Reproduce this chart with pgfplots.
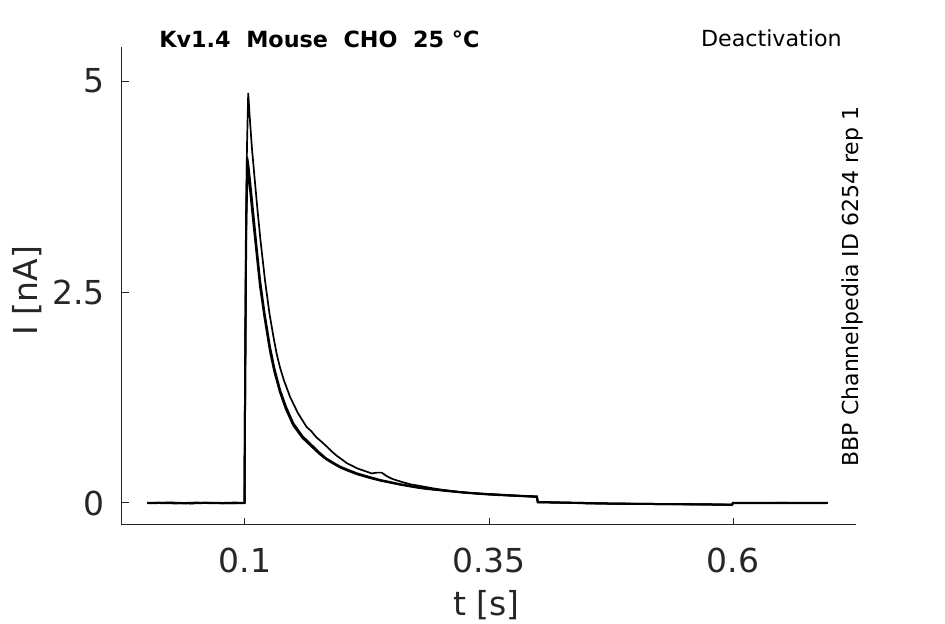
\documentclass[border=0pt]{standalone}
\usepackage{pgfplots}
\pgfplotsset{compat=1.18}
\usepackage{fontspec}
\setmainfont{DejaVu Sans}
\definecolor{axgray}{HTML}{262626}
\begin{document}
\begin{tikzpicture}
\useasboundingbox (-61pt,-49.5pt) rectangle (411.5pt,262.5pt);
\begin{axis}[
  at={(0pt,0pt)}, anchor=south west,
  scale only axis, width=367pt, height=239pt,
  xmin=-0.026, xmax=0.726, ymin=-0.2607, ymax=5.403,
  axis x line*=bottom, axis y line*=left,
  axis line style={-, color=axgray, line width=0.5pt},
  xtick={0.1,0.35,0.6}, ytick={0,2.5,5},
  xticklabels={0.1,0.35,0.6}, yticklabels={0,2.5,5},
  tick align=inside, major tick length=3.5pt,
  tick style={color=axgray, line width=0.5pt},
  /pgf/number format/assume math mode=true,
  every tick label/.append style={font=\fontsize{16.5}{18}\selectfont, text=axgray},
  xticklabel style={anchor=base, inner sep=0pt, yshift=-23.8pt},
  yticklabel style={anchor=east, inner sep=0pt, xshift=-8.5pt},
  xlabel={t [s]}, ylabel={I [nA]},
  label style={font=\fontsize{16.5}{18}\selectfont, text=axgray, inner sep=0pt},
  xlabel style={at={(rel axis cs:0.4966,-0.1895)}, anchor=base},
  ylabel style={at={(rel axis cs:-0.115,0.49)}, anchor=base, rotate=0},
  clip=false,
]
% trace A (highest peak)
\addplot[black, line width=0.85pt] coordinates {
(0.000,0.00) (0.020,0.005) (0.040,-0.005) (0.060,0.003) (0.080,-0.004) (0.0995,0.00)
(0.1003,1.5) (0.1010,3.0) (0.1020,4.2) (0.1033,4.86) (0.1050,4.55) (0.1070,4.22)
(0.1100,3.83) (0.1130,3.45) (0.1160,3.10) (0.1205,2.64) (0.1250,2.25) (0.1290,1.98)
(0.1324,1.77) (0.1360,1.60) (0.1400,1.45) (0.1461,1.26) (0.1540,1.07) (0.1632,0.90)
(0.1680,0.85) (0.1730,0.78) (0.1780,0.73) (0.1837,0.67) (0.1890,0.61) (0.1940,0.56)
(0.2000,0.51) (0.2046,0.47) (0.2100,0.44) (0.2150,0.41) (0.2200,0.39) (0.2250,0.37)
(0.2300,0.35) (0.2350,0.36) (0.2400,0.36) (0.2450,0.32) (0.2500,0.29) (0.2550,0.27)
(0.2620,0.245) (0.2700,0.22) (0.2780,0.205) (0.2850,0.19) (0.2920,0.175) (0.3000,0.16)
(0.3100,0.145) (0.3200,0.13) (0.3300,0.12) (0.3400,0.11) (0.3500,0.105) (0.3600,0.10)
(0.3700,0.09) (0.3800,0.085) (0.3900,0.08) (0.3990,0.075)
(0.4000,0.01) (0.4200,0.005) (0.4500,-0.005) (0.5000,-0.01) (0.5500,-0.015) (0.5990,-0.02)
(0.6000,0.0) (0.6500,0.002) (0.6970,0.0)
};
% trace B
\addplot[black, line width=1pt] coordinates {
(0.000,0.003) (0.030,-0.004) (0.050,0.004) (0.070,-0.003) (0.090,0.004) (0.0995,0.00)
(0.1003,1.8) (0.1012,3.4) (0.1022,4.1) (0.1035,4.0) (0.1060,3.72) (0.1085,3.43)
(0.1120,3.02) (0.1154,2.64) (0.1200,2.25) (0.1256,1.85) (0.1300,1.60) (0.1359,1.34)
(0.1420,1.14) (0.1495,0.944) (0.1590,0.79) (0.1700,0.667) (0.1760,0.60) (0.1830,0.53)
(0.1900,0.48) (0.1977,0.43) (0.2060,0.39) (0.2150,0.35) (0.2270,0.31) (0.2387,0.272)
(0.2500,0.245) (0.2600,0.22) (0.2700,0.20) (0.2800,0.18) (0.2900,0.167) (0.3002,0.154)
(0.3120,0.14) (0.3250,0.125) (0.3370,0.115) (0.3500,0.105) (0.3620,0.097) (0.3750,0.09)
(0.3870,0.083) (0.3990,0.078)
(0.4000,0.012) (0.4300,0.004) (0.4700,-0.006) (0.5200,-0.012) (0.5700,-0.016) (0.5990,-0.022)
(0.6000,0.002) (0.6600,0.0) (0.6970,0.002)
};
% trace C
\addplot[black, line width=1pt] coordinates {
(0.000,-0.003) (0.025,0.004) (0.045,-0.004) (0.065,0.003) (0.085,-0.003) (0.0995,0.00)
(0.1003,1.7) (0.1013,3.3) (0.1025,3.95) (0.1040,3.85) (0.1085,3.33) (0.1154,2.57)
(0.1200,2.20) (0.1256,1.80) (0.1300,1.56) (0.1359,1.31) (0.1420,1.11) (0.1495,0.92)
(0.1590,0.77) (0.1700,0.65) (0.1760,0.585) (0.1830,0.52) (0.1900,0.47) (0.1977,0.42)
(0.2060,0.38) (0.2150,0.34) (0.2270,0.30) (0.2387,0.265) (0.2500,0.238) (0.2600,0.215)
(0.2700,0.195) (0.2800,0.176) (0.2900,0.162) (0.3002,0.15) (0.3120,0.136) (0.3250,0.122)
(0.3370,0.111) (0.3500,0.10) (0.3620,0.093) (0.3750,0.086) (0.3870,0.079) (0.3990,0.072)
(0.4000,0.008) (0.4400,0.002) (0.4800,-0.008) (0.5300,-0.013) (0.5800,-0.018) (0.5990,-0.02)
(0.6000,0.0) (0.6400,-0.002) (0.6970,0.0)
};
\end{axis}
\node[anchor=base west, inner sep=0pt, font=\fontsize{11.15}{12}\selectfont\bfseries] at (18.5pt,238.9pt) {Kv1.4\ \ Mouse\ \ CHO\ \ 25 °C};
\node[anchor=base west, inner sep=0pt, font=\fontsize{11.1}{12}\selectfont] at (289.3pt,239.2pt) {Deactivation};
\node[anchor=base west, inner sep=0pt, rotate=90, font=\fontsize{11}{12}\selectfont] at (368pt,29.2pt) {BBP Channelpedia ID 6254 rep 1};
\end{tikzpicture}
\end{document}
